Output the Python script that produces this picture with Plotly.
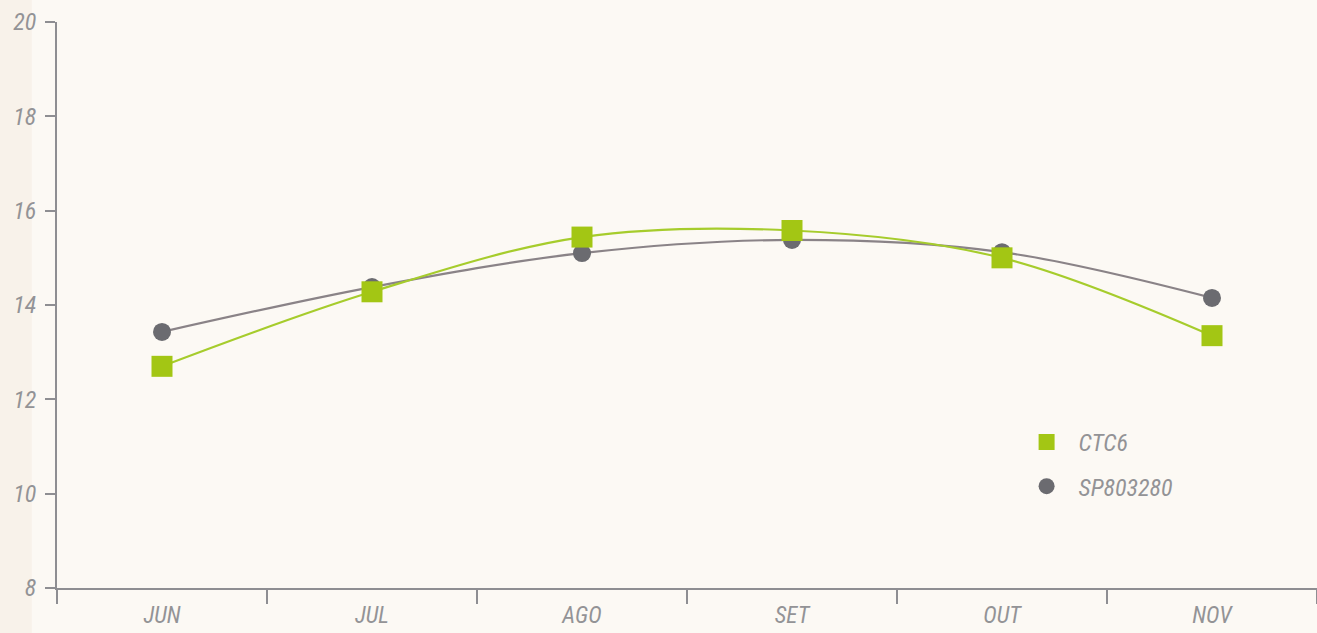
import plotly.graph_objects as go

months = ["JUN", "JUL", "AGO", "SET", "OUT", "NOV"]
ctc6 = [12.7, 14.28, 15.44, 15.58, 15.0, 13.35]
sp803280 = [13.43, 14.38, 15.1, 15.38, 15.12, 14.15]
y_ticks = [8, 10, 12, 14, 16, 18, 20]

font_family = "Roboto Condensed, Liberation Sans Narrow, Roboto, sans-serif"
label_color = "#939396"
green_marker = "#a3c614"
grey_marker = "#6b6b70"

fig = go.Figure()
fig.add_trace(go.Scatter(
    x=months, y=sp803280, name="SP803280", mode="lines+markers",
    line=dict(color="#8a8387", width=2.2, shape="spline", smoothing=1.0),
    marker=dict(symbol="circle", size=18, color=grey_marker),
    showlegend=False,
))
fig.add_trace(go.Scatter(
    x=months, y=ctc6, name="CTC6", mode="lines+markers",
    line=dict(color="#a6cc2c", width=2.2, shape="spline", smoothing=1.0),
    marker=dict(symbol="square", size=21, color=green_marker),
    showlegend=False,
))
# legend entries (markers only)
fig.add_trace(go.Scatter(
    x=[None], y=[None], name="CTC6", mode="markers",
    marker=dict(symbol="square", size=21, color=green_marker),
    legendgroup="a", legendrank=1,
))
fig.add_trace(go.Scatter(
    x=[None], y=[None], name="SP803280", mode="markers",
    marker=dict(symbol="circle", size=19, color=grey_marker),
    legendgroup="b", legendrank=2,
))

shapes = [
    dict(type="rect", xref="paper", yref="paper", x0=-0.046, x1=-0.02, y0=-0.08, y1=1.04,
         fillcolor="#f1e6d6", opacity=0.35, line_width=0, layer="below"),
]

tick_font = dict(family=font_family, size=24, color=label_color, style="italic")
x_tick_font = dict(family=font_family, size=23, color=label_color, style="italic")

fig.update_layout(
    width=1317, height=633,
    margin=dict(l=57, r=0, t=22, b=45, autoexpand=False),
    paper_bgcolor="#fcf9f4",
    plot_bgcolor="rgba(0,0,0,0)",
    shapes=shapes,
    showlegend=True,
    legend=dict(
        x=0.760, y=0.297, xanchor="left", yanchor="top",
        bgcolor="rgba(0,0,0,0)", tracegroupgap=10,
        font=tick_font,
        itemwidth=54,
    ),
    xaxis=dict(
        type="category", categoryorder="array", categoryarray=months,
        range=[-0.5, 5.5], tickson="boundaries",
        showline=True, linecolor="#8e8e92", linewidth=2,
        ticks="outside", ticklen=14, tickwidth=2, tickcolor="#8e8e92",
        ticklabelstandoff=5,
        showgrid=False, zeroline=False, automargin=False,
        tickfont=x_tick_font,
    ),
    yaxis=dict(
        range=[8, 20], tickvals=y_ticks,
        showline=True, linecolor="#8e8e92", linewidth=2,
        ticks="outside", ticklen=10, tickwidth=2, tickcolor="#8e8e92",
        ticklabelstandoff=4,
        showgrid=False, zeroline=False, automargin=False,
        tickfont=tick_font,
    ),
)

fig.write_html(
    "out.html",
    config={"displayModeBar": False},
    post_script="document.body.style.margin='0';document.body.style.background='#fcf9f4';",
)
